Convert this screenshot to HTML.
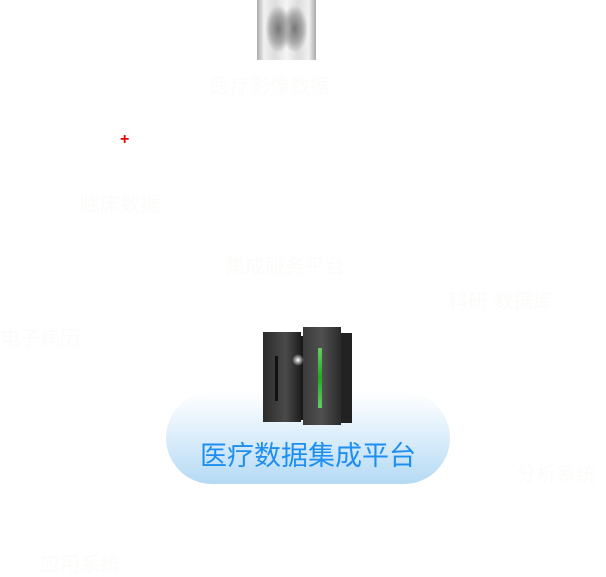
<!DOCTYPE html>
<html><head><meta charset="utf-8"><style>
body{margin:0;width:606px;height:573px;background:#fff;position:relative;overflow:hidden;font-family:"Liberation Sans","Noto Sans CJK SC",sans-serif}
.t{position:absolute;color:#fbfcf9;font-size:20px;white-space:nowrap}
</style></head><body>
<div style="position:absolute;left:257px;top:0;width:59px;height:60px;background:radial-gradient(ellipse 22% 40% at 36% 48%,#777,#aaa 60%,transparent 100%),radial-gradient(ellipse 22% 40% at 64% 48%,#777,#aaa 60%,transparent 100%),linear-gradient(90deg,#aaa,#f0f0f0 12%,#ddd 30%,#f4f4f4 50%,#ddd 70%,#f0f0f0 88%,#aaa)"></div>
<div class="t" style="left:210px;top:70px">医疗影像数据</div>
<div style="position:absolute;left:120px;top:131px;color:#e00;font-size:16px;font-weight:bold">+</div>
<div class="t" style="left:80px;top:188px">临床数据</div>
<div class="t" style="left:225px;top:250px">集成服务平台</div>
<div class="t" style="left:448px;top:285px">科研 数据库</div>
<div class="t" style="left:0px;top:322px">电子病历</div>
<div class="t" style="left:516px;top:458px">分析系统</div>
<div class="t" style="left:40px;top:548px">应用系统</div>
<div style="position:absolute;left:166px;top:392px;width:284px;height:92px;border-radius:46px;background:linear-gradient(#fff,#e3f1fc 40%,#b4daf4)"></div>
<div style="position:absolute;left:263px;top:332px;width:38px;height:90px;background:linear-gradient(90deg,#2b2b2b,#4a4a4a 60%,#1e1e1e);"></div>
<div style="position:absolute;left:275px;top:356px;width:3px;height:45px;background:#111"></div>
<div style="position:absolute;left:301px;top:336px;width:14px;height:84px;background:#1a1a1a"></div>
<div style="position:absolute;left:303px;top:327px;width:38px;height:98px;background:linear-gradient(90deg,#3a3a3a,#505050 50%,#2a2a2a)"></div>
<div style="position:absolute;left:318px;top:348px;width:4px;height:60px;background:linear-gradient(#6c6,#2a2,#6c6)"></div>
<div style="position:absolute;left:341px;top:333px;width:11px;height:90px;background:#222"></div>
<div style="position:absolute;left:292px;top:354px;width:12px;height:12px;border-radius:50%;background:radial-gradient(#fff,transparent 70%)"></div>
<div style="position:absolute;left:166px;top:434px;width:284px;text-align:center;color:#1e8ff0;font-size:27px">医疗数据集成平台</div>
</body></html>
